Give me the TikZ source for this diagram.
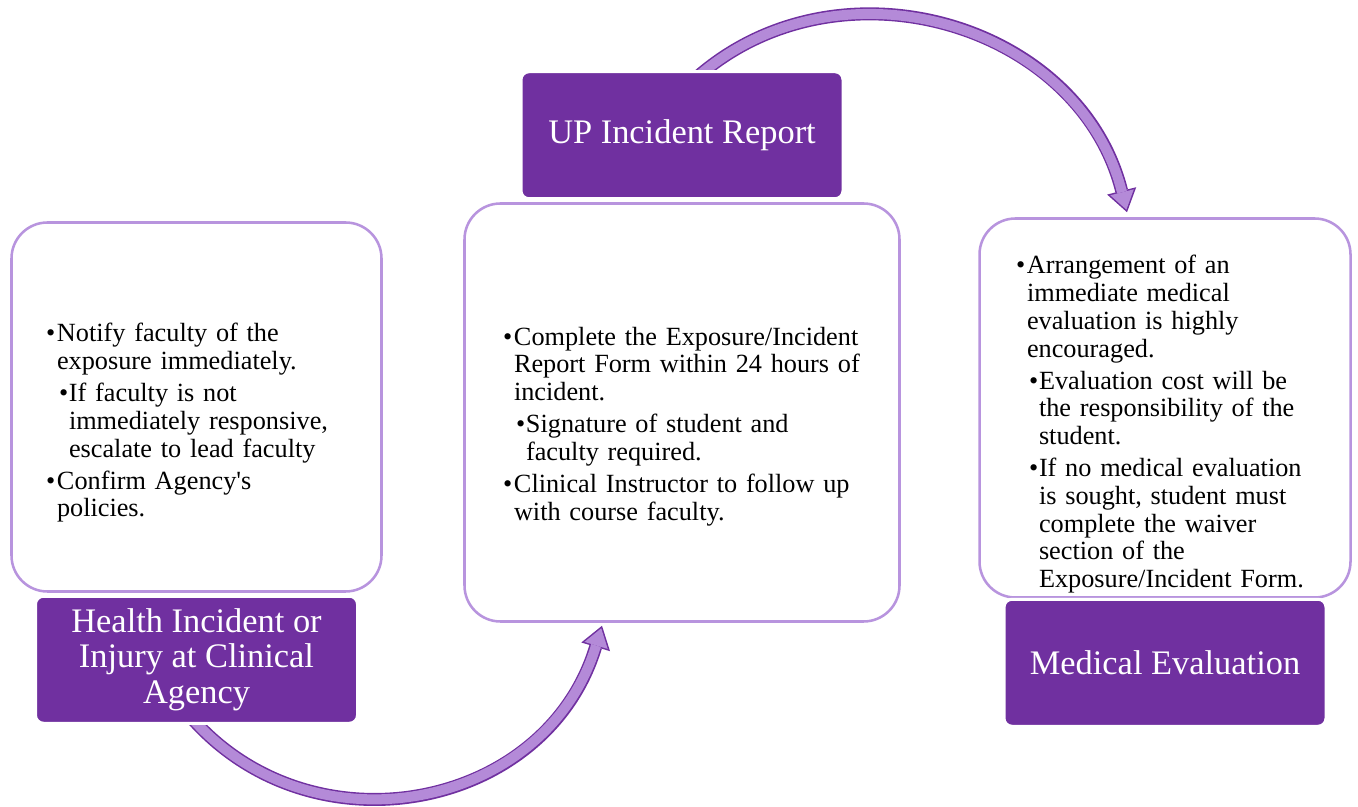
\documentclass[tikz,border=0pt]{standalone}
\usepackage{fontspec}
\setmainfont{Liberation Serif}
\usetikzlibrary{arrows.meta, positioning, calc, backgrounds}
\definecolor{stagepurple}{RGB}{112,48,160}
\definecolor{arclilac}{RGB}{180,138,216}
\definecolor{rimlilac}{RGB}{184,148,222}
\newcommand{\lvlone}[1]{\hangindent=8.25pt\hangafter=1\noindent\makebox[8.25pt][l]{\textbullet}#1\par}
\newcommand{\lvltwo}[1]{\hangindent=17.25pt\hangafter=1\noindent\hspace*{9.75pt}\makebox[7.5pt][l]{\textbullet}#1\par}
\tikzset{
  panel/.style={rectangle, rounded corners=27pt, draw=rimlilac, line width=1.9pt,
                fill=white},
  stage/.style={rectangle, rounded corners=6pt, draw=white, line width=2.25pt,
                fill=stagepurple, text=white, align=center,
                minimum width=241.5pt, minimum height=95.25pt,
                font=\fontsize{25.8}{26.5}\selectfont},
  notes/.style={anchor=north west, inner sep=0pt, text width=280pt, align=left,
                font=\fontsize{19.7}{20.8}\selectfont,
                execute at begin node={\setlength{\parskip}{3.2pt}}},
  cyclearrow/.style={line width=9.75pt, draw=stagepurple,
                     -{Triangle[length=16.5pt, width=22.5pt, line width=0pt]},
                     postaction={draw=arclilac, line width=7.5pt, shorten >=2pt,
                                 -{Triangle[length=13.4pt, width=18.2pt, line width=0pt]}}},
}

\begin{document}
\begin{tikzpicture}[x=0.75pt, y=0.75pt]
  \useasboundingbox (0,0) rectangle (1358,806);

  \node[panel, minimum width=277.5pt,  minimum height=276.75pt] (box1) at (196.5,399)  {};
  \node[panel, minimum width=326.25pt, minimum height=313.5pt]  (box2) at (682,393.5)  {};
  \node[panel, minimum width=278.25pt, minimum height=284.25pt] (box3) at (1165,398)   {};

  \node[stage, below=1.5pt of box1]  (inc) {Health Incident or\\Injury at Clinical\\Agency};
  \node[stage, above=1.5pt of box2]  (upp) {UP Incident Report};
  \node[stage, below=-0.75pt of box3] (med) {Medical Evaluation};

  \node[notes] (note1) at ($(box1.north west)+(35.5,-102)$) {%
    \lvlone{Notify faculty of the\newline exposure immediately.}
    \lvltwo{If faculty is not\newline immediately responsive,\newline escalate to lead faculty}
    \lvlone{Confirm Agency\textquotesingle s\newline policies.}};
  \node[notes] (note2) at ($(box2.north west)+(39.5,-124.5)$) {%
    \lvlone{Complete the Exposure/Incident\newline Report Form within 24 hours of\newline incident.}
    \lvltwo{Signature of student and\newline faculty required.}
    \lvlone{Clinical Instructor to follow up\newline with course faculty.}};
  \node[notes] (note3) at ($(box3.north west)+(37.5,-38)$) {%
    \lvlone{Arrangement of an\newline immediate medical\newline evaluation is highly\newline encouraged.}
    \lvltwo{Evaluation cost will be\newline the responsibility of the\newline student.}
    \lvltwo{If no medical evaluation\newline is sought, student must\newline complete the waiver\newline section of the\newline Exposure/Incident Form.}};

  \begin{scope}[on background layer]
    \fill[white] (0,0) rectangle (1358,806);
    \draw[cyclearrow] ($(inc.center)+(-22.3,-36)$) to[out=-55, in=-106.8, looseness=1.185]
                      ($(box2.south)+(-80,-3)$);
    \draw[cyclearrow] ($(upp.center)+(2.6,46.4)$) to[out=45, in=104.1, looseness=1.11]
                      ($(box3.north)+(-38,5)$);
  \end{scope}
\end{tikzpicture}
\end{document}
